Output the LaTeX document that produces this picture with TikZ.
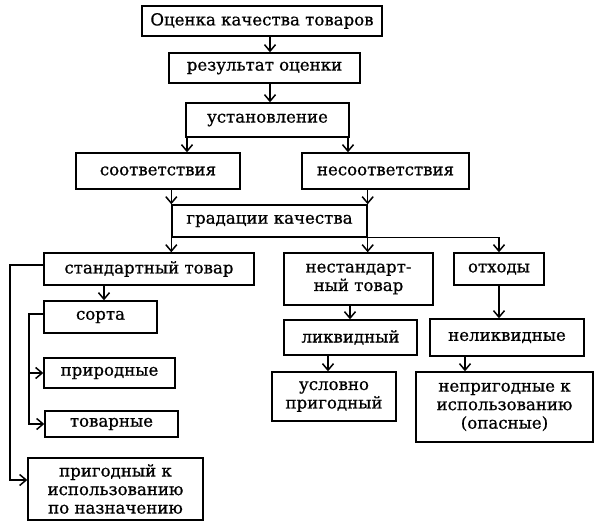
\documentclass[tikz,border=0pt]{standalone}
\usepackage{fontspec}
\setmainfont{DejaVu Serif}[FakeBold=0.8]
\usetikzlibrary{arrows.meta}
\begin{document}
\begin{tikzpicture}[x=1pt,y=-1pt,
  box/.style={draw, line width=1.4pt, rectangle, inner sep=0pt, align=center,
    font=\fontsize{16.6}{18.5}\selectfont},
  arr/.style={line width=1.4pt, -{Straight Barb[length=6.5pt,width=11pt,line width=1.5pt]}},
  ln/.style={line width=1.4pt}]
\useasboundingbox (0,0) rectangle (599,532);
% boxes
\node[box, minimum width=240pt, minimum height=30pt] (top) at (262,21) {Оценка качества товаров};
\node[box, minimum width=191pt, minimum height=30pt] (res) at (264.5,68) {результат оценки};
\node[box, minimum width=163pt, minimum height=34pt] (ust) at (267.5,120) {установление};
\node[box, minimum width=164pt, minimum height=36pt] (sootv) at (158,171) {соответствия};
\node[box, minimum width=167pt, minimum height=36pt] (nesootv) at (385.5,171) {несоответствия};
\node[box, minimum width=195pt, minimum height=32pt] (grad) at (269.5,221) {градации качества};
\node[box, minimum width=210pt, minimum height=32pt] (std) at (149,269) {стандартный товар};
\node[box, minimum width=149pt, minimum height=52pt] (nestd) at (358.5,279) {нестандарт-\\ный товар};
\node[box, minimum width=90pt, minimum height=32pt] (otx) at (499,269) {отходы};
\node[box, minimum width=113pt, minimum height=32pt] (sorta) at (100.5,317) {сорта};
\node[box, minimum width=131pt, minimum height=30pt] (prir) at (109.5,373) {природные};
\node[box, minimum width=133pt, minimum height=26pt] (tov) at (111.5,424) {товарные};
\node[box, minimum width=175pt, minimum height=62pt] (prig) at (115.5,489) {пригодный к\\использованию\\по назначению};
\node[box, minimum width=133pt, minimum height=35pt] (likv) at (350.5,337.5) {ликвидный};
\node[box, minimum width=154pt, minimum height=37pt] (nelikv) at (507,337.5) {неликвидные};
\node[box, minimum width=124pt, minimum height=49pt] (usl) at (334,396.5) {условно\\пригодный};
\node[box, minimum width=177pt, minimum height=70pt] (neprig) at (504.5,407) {непригодные к\\использованию\\(опасные)};
% helper coordinates
\coordinate (c270) at (270,0);
\coordinate (c187) at (187,0);
\coordinate (c348) at (348,0);
\coordinate (c104) at (104,0);
\coordinate (c10) at (10,0);
\coordinate (c29) at (29,0);
\coordinate (c350) at (350,0);
\coordinate (c328) at (328,0);
\coordinate (c465) at (465,0);
\coordinate (r265) at (0,265);
\coordinate (r314) at (0,314);
\coordinate (r480) at (0,480);
% connectors
\draw[arr] (top.south -| c270) -- (res.north -| c270);
\draw[arr] (res.south -| c270) -- (ust.north -| c270);
\draw[arr] (ust.south -| c187) -- (sootv.north -| c187);
\draw[arr] (ust.south -| c348) -- (nesootv.north -| c348);
\draw[arr] (sootv.south -| grad.west) -- (grad.north west);
\draw[arr] (nesootv.south -| grad.east) -- (grad.north east);
\draw[arr] (grad.south west) -- (std.north -| grad.west);
\draw[arr] (grad.south east) -- (nestd.north -| grad.east);
\draw[arr] (grad.south east) -- (grad.south east -| otx.north) -- (otx.north);
\draw[arr] (std.south -| c104) -- (sorta.north -| c104);
\draw[arr] (std.west |- r265) -- (c10 |- r265) -- (c10 |- r480) -- (prig.west |- r480);
\draw[arr] (sorta.west |- r314) -- (c29 |- r314) -- (c29 |- tov.west) -- (tov.west);
\draw[arr] (c29 |- prir.west) -- (prir.west);
\draw[arr] (nestd.south -| c350) -- (likv.north -| c350);
\draw[arr] (likv.south -| c328) -- (usl.north -| c328);
\draw[arr] (otx.south) -- (nelikv.north -| otx.south);
\draw[arr] (nelikv.south -| c465) -- (neprig.north -| c465);
\end{tikzpicture}
\end{document}
